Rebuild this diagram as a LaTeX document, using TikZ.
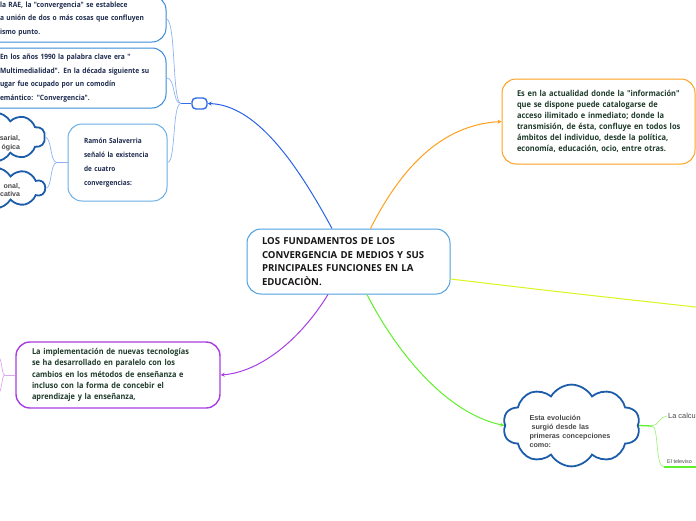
\documentclass[tikz,border=0pt]{standalone}
\usepackage{fontspec}
\setmainfont{Open Sans}
\newfontfamily\narrowf[FakeStretch=0.91]{Open Sans}
\newfontfamily\arialf{Liberation Sans}
\usetikzlibrary{shapes.symbols,arrows.meta}
\newcommand\oneline[1]{\mbox{#1}}
\definecolor{centborder}{HTML}{4B9FE1}
\definecolor{boxblue}{HTML}{3B8AD6}
\definecolor{boxthree}{HTML}{6AAEE6}
\definecolor{smallblue}{HTML}{2F6CE5}
\definecolor{cloudblue}{HTML}{1C5DAB}
\definecolor{orangec}{HTML}{FF9F1C}
\definecolor{purplec}{HTML}{A73DE3}
\definecolor{greenc}{HTML}{5FF02A}
\definecolor{yellowc}{HTML}{D8F51C}
\definecolor{bluecon}{HTML}{2A62E8}
\definecolor{lbcon}{HTML}{8FB2F5}
\definecolor{lpcon}{HTML}{DBA8F0}
\definecolor{lgcon}{HTML}{A4F07E}
\definecolor{txtcent}{HTML}{151515}
\definecolor{txtgreen}{HTML}{1E3A2B}
\definecolor{txtnavy}{HTML}{1D2B4D}
\definecolor{txtgray}{HTML}{474747}
\begin{document}
\begin{tikzpicture}[x=1pt,y=-1pt,
  box/.style={draw, rounded corners=14pt, align=left, inner ysep=0pt, line width=1pt},
  cloudbox/.style={draw=cloudblue, line width=1.8pt, shape=cloud, cloud puffs=10, cloud puff arc=120, cloud ignores aspect, inner sep=0pt, text=txtgray},
  arr/.style={-{Stealth[length=4pt,width=4pt]}, line width=1pt},
  thin/.style={line width=0.7pt}
]
\useasboundingbox (0,0) rectangle (696,520);
% central
\node[box, draw=centborder, text=txtcent, minimum width=203pt, minimum height=65pt, text width=173pt, inner xsep=15pt,
  font={\bfseries\fontsize{9.6}{13.7}\selectfont}] (c) at (348.5,261.5)
  {\oneline{LOS FUNDAMENTOS DE LOS}\\\oneline{CONVERGENCIA DE MEDIOS Y SUS}\\\oneline{PRINCIPALES FUNCIONES EN LA}\\\oneline{EDUCACIÒN.}};
% orange box
\node[box, draw=orangec, text=txtgreen, minimum width=193pt, minimum height=85pt, text width=163pt, inner xsep=15pt,
  font={\narrowf\bfseries\fontsize{8.2}{10.9}\selectfont}] (o) at (598.5,121.5)
  {\oneline{Es en la actualidad donde la "información"}\\\oneline{que se dispone puede catalogarse de}\\\oneline{acceso ilimitado e inmediato; donde la}\\\oneline{transmisión, de ésta, confluye en todos los}\\\oneline{ámbitos del individuo, desde la política,}\\\oneline{economía, educación, ocio, entre otras.}};
% purple box
\node[box, draw=purplec, line width=1.4pt, text=txtgreen, minimum width=204pt, minimum height=66pt, text width=172pt, inner xsep=16pt,
  font={\narrowf\bfseries\fontsize{8.1}{11.3}\selectfont}] (p) at (118,375)
  {\oneline{La implementación de nuevas tecnologías}\\\oneline{se ha desarrollado en paralelo con los}\\\oneline{cambios en los métodos de enseñanza e}\\\oneline{incluso con la forma de concebir el}\\\oneline{aprendizaje y la enseñanza,}};
% box 3
\node[box, draw=boxthree, text=txtnavy, minimum width=99pt, minimum height=77pt, text width=67pt, inner xsep=16pt,
  font={\narrowf\bfseries\fontsize{7.1}{14}\selectfont}] (r) at (117.5,162.5)
  {\oneline{Ramón Salaverria}\\\oneline{señaló la existencia}\\\oneline{de cuatro}\\\oneline{convergencias:}};
% box 1 and 2
\node[box, draw=boxblue, text=txtnavy, minimum width=182pt, minimum height=46pt, text width=150pt, inner xsep=16pt,
  font={\narrowf\bfseries\fontsize{7.3}{13.5}\selectfont}] (b1) at (75,19)
  {\oneline{la RAE, la "convergencia" se establece}\\\oneline{a unión de dos o más cosas que confluyen}\\\oneline{ismo punto.}};
\node[box, draw=boxblue, text=txtnavy, minimum width=182pt, minimum height=60pt, text width=150pt, inner xsep=16pt,
  font={\narrowf\bfseries\fontsize{7.3}{13.5}\selectfont}] (b2) at (75,78)
  {\oneline{En los años 1990 la palabra clave era "}\\\oneline{Multimedialidad". En la década siguiente su}\\\oneline{ugar fue ocupado por un comodín}\\\oneline{emántico: "Convergencia".}};
% small node
\node[draw=smallblue, line width=1.4pt, rounded corners=4pt, minimum width=15pt, minimum height=11pt, inner sep=0pt] (s) at (199.5,103.5) {};
% clouds
\node[cloudbox, minimum width=100pt, minimum height=40pt, align=right, text width=50pt,
  font={\arialf\bfseries\fontsize{7}{8.6}\selectfont}] (cl1) at (-5,137) {\oneline{\rule{0pt}{17pt}sarial,}\\\oneline{ógica}};
\node[cloudbox, minimum width=100pt, minimum height=41pt, align=right, text width=50pt,
  font={\arialf\bfseries\fontsize{7}{8.6}\selectfont}] (cl2) at (-5,188) {\oneline{\rule{0pt}{9pt}onal,}\\\oneline{cativa}};
\node[cloudbox, minimum width=137pt, minimum height=75pt, align=left, text width=84pt,
  font={\arialf\bfseries\fontsize{7.2}{9}\selectfont}] (cl3) at (571.5,425.5)
  {\oneline{\rule{0pt}{18pt}Esta evolución}\\\oneline{\hspace*{2pt}surgió desde las}\\\oneline{primeras concepciones}\\\oneline{como:}};
% right texts
\node[anchor=west, inner sep=1pt, text=txtgray, font={\arialf\fontsize{7.4}{9}\selectfont}] (lc) at (667,416) {La calcul};
\node[anchor=south west, inner sep=3pt, text=txtgray, font={\arialf\fontsize{5.4}{6}\selectfont}] (tv) at (664,467) {El televiso};
% main connectors
\draw[arr, draw=bluecon] ([xshift=-16.5pt]c.north) .. controls (295,160) and (255,105) .. (s.east);
\draw[arr, draw=orangec] ([xshift=22pt]c.north) .. controls (400,170) and (440,125) .. (o.west);
\coordinate (ye) at (700,307.5);
\draw[line width=1pt, draw=yellowc] ([yshift=-17.5pt]c.east) .. controls (560,292) .. (ye);
\draw[arr, draw=purplec] ([xshift=-20.5pt]c.south) .. controls (300,340) and (260,372) .. (p.east);
\draw[arr, draw=greenc] ([xshift=18.5pt]c.south) .. controls (390,340) and (440,412) .. (cl3.west);
% small node branches
\coordinate (j2) at (181,103.5);
\draw[line width=1.2pt, draw=smallblue] (s.west) -- (j2);
\draw[thin, draw=lbcon] (j2) .. controls (172,103.5) and (176,20.5) .. (b1.east);
\draw[thin, draw=lbcon] (j2) .. controls (172,103.5) and (176,78) .. (b2.east);
\draw[thin, draw=lbcon] (j2) .. controls (172,103.5) and (176,162.5) .. (r.east);
% box 3 to clouds
\coordinate (j1) at (57,162.5);
\draw[thin, draw=lbcon] (r.west) -- (j1);
\draw[thin, draw=lbcon] (j1) .. controls (50,162.5) and (52,139) .. (cl1.east);
\draw[thin, draw=lbcon] (j1) .. controls (50,162.5) and (52,188) .. (cl2.east);
% purple left
\coordinate (j3) at (5,375);
\coordinate (pu) at (-3,355);
\coordinate (pd) at (-3,395);
\draw[thin, draw=lpcon] (p.west) -- (j3);
\draw[thin, draw=lpcon] (j3) .. controls (1,375) and (3,358) .. (pu);
\draw[thin, draw=lpcon] (j3) .. controls (1,375) and (3,392) .. (pd);
% cloud 3 right
\coordinate (j4) at (652,426);
\coordinate (tve) at (700,467);
\draw[line width=1.3pt, draw=greenc] (cl3.east) -- (j4);
\draw[thin, draw=lgcon] (j4) .. controls (658,426) and (660,416) .. (lc.west);
\draw[thin, draw=lgcon] (j4) .. controls (659,426) and (655,467) .. (tv.south west);
\draw[line width=1.8pt, draw=greenc] (tv.south west) -- (tve);
\end{tikzpicture}
\end{document}
